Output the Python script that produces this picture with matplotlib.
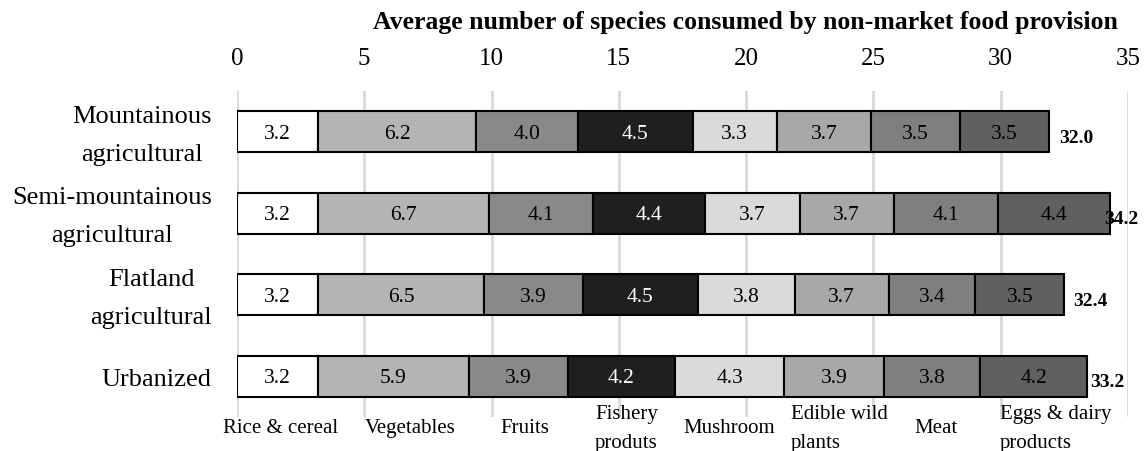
import numpy as np
import matplotlib.pyplot as plt
import matplotlib.transforms as mtransforms

plt.rcParams['font.family'] = ['Liberation Serif', 'DejaVu Serif']

regions = ['Mountainous\nagricultural', 'Semi-mountainous\nagricultural',
           'Flatland\nagricultural', 'Urbanized']
food_groups = ['Rice & cereal', 'Vegetables', 'Fruits', 'Fishery\nproduts',
               'Mushroom', 'Edible wild\nplants', 'Meat', 'Eggs & dairy\nproducts']
# rows = regions, columns = food groups
values = np.array([
    [3.2, 6.2, 4.0, 4.5, 3.3, 3.7, 3.5, 3.5],
    [3.2, 6.7, 4.1, 4.4, 3.7, 3.7, 4.1, 4.4],
    [3.2, 6.5, 3.9, 4.5, 3.8, 3.7, 3.4, 3.5],
    [3.2, 5.9, 3.9, 4.2, 4.3, 3.9, 3.8, 4.2],
])
totals = [32.0, 34.2, 32.4, 33.2]

colors = ['#ffffff', '#b4b4b4', '#898989', '#1f1f1f',
          '#dadada', '#a8a8a8', '#7f7f7f', '#606060']
txt_colors = ['black', 'black', 'black', 'white',
              'black', 'black', 'black', 'black']

fig = plt.figure(figsize=(11.48, 4.52), dpi=100)
ax = fig.add_axes([0.2064, 0.0752, 0.7762, 0.7213])

y = np.arange(len(regions))
left = np.zeros(len(regions))
for j in range(len(food_groups)):
    ax.barh(y, values[:, j], left=left, height=0.5, color=colors[j],
            edgecolor='black', linewidth=1.5, zorder=3)
    for i in range(len(regions)):
        ax.text(left[i] + values[i, j] / 2, y[i] + 0.02, f'{values[i, j]:.1f}',
                ha='center', va='center', fontsize=15.5, color=txt_colors[j], zorder=4)
    left += values[:, j]

# total labels (offsets in points, nudged like the original)
total_dx = [7, -4, 6, 2]
for i in range(len(regions)):
    ax.annotate(f'{totals[i]:.1f}', (left[i], y[i]), xytext=(total_dx[i], -4),
                textcoords='offset points', ha='left', va='center',
                fontsize=14, fontweight='bold', zorder=5)

ax.set_xlim(0, 35)
ax.set_ylim(3.5, -0.5)
ax.set_xticks(np.arange(0, 36, 5))
ax.xaxis.tick_top()
ax.tick_params(axis='x', length=0, labelsize=18, pad=16)
ax.set_yticks(y)
ax.set_yticklabels(regions, fontsize=19, multialignment='center',
                   linespacing=1.95, va='center')
ax.tick_params(axis='y', length=0, pad=18)
shift = mtransforms.ScaledTranslation(0, -0.03, fig.dpi_scale_trans)
for lab in ax.get_yticklabels():
    lab.set_transform(lab.get_transform() + shift)
ax.grid(axis='x', color='#d9d9d9', linewidth=2, zorder=0)
for s in ax.spines.values():
    s.set_visible(False)

fig.text(745 / 1148, 1 - 23 / 452,
         'Average number of species consumed by non-market food provision',
         ha='center', va='center', fontsize=18.5, fontweight='bold')

# category labels along the bottom
legend_x = [223, 365, 500, 595, 683, 791, 914, 1000]
for name, xp in zip(food_groups, legend_x):
    fig.text(xp / 1148, 1 - 429 / 452, name, ha='left', va='center',
             fontsize=15, linespacing=1.7)

fig.savefig('out.png', dpi=100)
